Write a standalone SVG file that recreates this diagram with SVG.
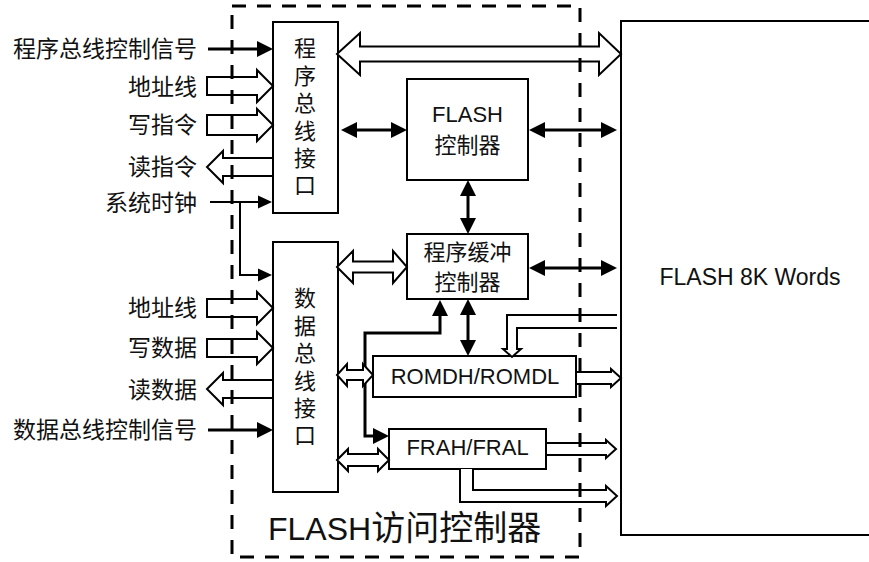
<svg xmlns="http://www.w3.org/2000/svg" width="869" height="562" viewBox="0 0 869 562">
<style>
.box{fill:#fff;stroke:#000;stroke-width:2}
.hol{fill:#fff;stroke:#000;stroke-width:2;stroke-linejoin:miter}
.thk{fill:none;stroke:#000;stroke-width:3}
.thn{fill:none;stroke:#000;stroke-width:2}
.cn{font-family:"Noto Sans CJK SC","Liberation Sans",sans-serif;font-size:23px;fill:#111}
.lt{font-family:"Liberation Sans","Noto Sans CJK SC",sans-serif;font-size:22px;fill:#111}
.vt{font-family:"Noto Sans CJK SC",sans-serif;font-size:22px;fill:#111;writing-mode:vertical-rl;letter-spacing:5.4px}
.dash{fill:none;stroke:#000;stroke-width:3;stroke-dasharray:14 11}
</style>
<defs>
<marker id="ah" viewBox="0 0 16 16" refX="10" refY="8" markerWidth="16" markerHeight="16" markerUnits="userSpaceOnUse" orient="auto-start-reverse"><path d="M0,0 L16,8 L0,16 z" fill="#000"/></marker>
<marker id="ahs" viewBox="0 0 14 14" refX="8" refY="7" markerWidth="14" markerHeight="14" markerUnits="userSpaceOnUse" orient="auto-start-reverse"><path d="M0,0.5 L14,7 L0,13.5 z" fill="#000"/></marker>
</defs>
<rect width="869" height="562" fill="#fff"/>

<g id="flash-mem">
<path class="box" d="M880,21 H621 V535 H880"/>
<text class="lt" x="750" y="285" text-anchor="middle" style="font-size:23px">FLASH 8K Words</text>
</g>

<g id="prog-bus-if">
<rect class="box" x="273" y="22" width="65" height="191"/>
<text class="vt" x="305" y="37">程序总线接口</text>
</g>

<g id="data-bus-if">
<rect class="box" x="273" y="242" width="65" height="250"/>
<text class="vt" x="305" y="287">数据总线接口</text>
</g>

<g id="flash-ctrl">
<rect class="box" x="407" y="79" width="121" height="101"/>
<text class="lt" x="467.5" y="122" text-anchor="middle">FLASH</text>
<text class="cn" x="467.5" y="153" text-anchor="middle" style="font-size:22px">控制器</text>
</g>

<g id="buf-ctrl">
<rect class="box" x="407" y="234" width="121" height="65"/>
<text class="cn" x="467.5" y="260" text-anchor="middle" style="font-size:22px">程序缓冲</text>
<text class="cn" x="467.5" y="290" text-anchor="middle" style="font-size:22px">控制器</text>
</g>

<g id="romd">
<rect class="box" x="373" y="356" width="203" height="41"/>
<text class="lt" x="475" y="384" text-anchor="middle">ROMDH/ROMDL</text>
</g>

<g id="fra">
<rect class="box" x="389" y="429" width="157" height="40"/>
<text class="lt" x="467.5" y="455" text-anchor="middle">FRAH/FRAL</text>
</g>

<g id="labels">
<text class="cn" x="197" y="57" text-anchor="end">程序总线控制信号</text>
<text class="cn" x="197" y="95" text-anchor="end">地址线</text>
<text class="cn" x="197" y="133" text-anchor="end">写指令</text>
<text class="cn" x="197" y="175" text-anchor="end">读指令</text>
<text class="cn" x="197" y="211" text-anchor="end">系统时钟</text>
<text class="cn" x="197" y="316" text-anchor="end">地址线</text>
<text class="cn" x="197" y="356" text-anchor="end">写数据</text>
<text class="cn" x="197" y="398" text-anchor="end">读数据</text>
<text class="cn" x="197" y="438" text-anchor="end">数据总线控制信号</text>
</g>

<g id="connectors">
<line class="thk" x1="208" y1="49" x2="267" y2="49" marker-end="url(#ah)"/>
<polygon class="hol" points="207,77 257,77 257,70 273,86 257,102 257,95 207,95"/>
<polygon class="hol" points="207,115 257,115 257,109 273,125 257,141 257,135 207,135"/>
<polygon class="hol" points="273,158 223,158 223,151 207,167 223,183 223,176 273,176"/>
<path class="thn" d="M210,202 H266" marker-end="url(#ahs)"/>
<path class="thn" d="M240,202 V275 H266" marker-end="url(#ahs)"/>
<polygon class="hol" points="207,299 257,299 257,292 273,308 257,324 257,317 207,317"/>
<polygon class="hol" points="207,339 257,339 257,332 273,348 257,364 257,357 207,357"/>
<polygon class="hol" points="273,380 223,380 223,373 207,389 223,405 223,398 273,398"/>
<line class="thk" x1="208" y1="430" x2="267" y2="430" marker-end="url(#ah)"/>
<polygon class="hol" points="337,54 360,33 360,46.5 599,46.5 599,33 621,54 599,75 599,61.5 360,61.5 360,75"/>
<line class="thk" x1="347" y1="130" x2="401" y2="130" marker-start="url(#ah)" marker-end="url(#ah)"/>
<line class="thk" x1="535" y1="130" x2="611" y2="130" marker-start="url(#ah)" marker-end="url(#ah)"/>
<line class="thk" x1="468" y1="186" x2="468" y2="228" marker-start="url(#ah)" marker-end="url(#ah)"/>
<line class="thk" x1="535" y1="268" x2="611" y2="268" marker-start="url(#ah)" marker-end="url(#ah)"/>
<line class="thk" x1="468" y1="305" x2="468" y2="350" marker-start="url(#ah)" marker-end="url(#ah)"/>
<path class="thk" d="M440,306 V333 H365 V436 H383" marker-start="url(#ah)" marker-end="url(#ah)"/>
<polygon class="hol" points="337,267 353,251 353,261.5 393,261.5 393,251 407,267 393,283 393,272.5 353,272.5 353,283"/>
<polygon class="hol" points="337,375 347,364 347,370 363,370 363,364 373,375 363,386 363,380 347,380 347,386"/>
<polygon class="hol" points="337,460 348,449 348,454 378,454 378,449 389,460 378,471 378,466 348,466 348,471"/>
<polyline class="hol" points="617,315 507,315 507,349 503,349 512,357 521,349 517,349 517,328 617,328"/>
<polygon class="hol" points="576,372 611,372 611,369 621,378 611,387 611,384 576,384"/>
<polygon class="hol" points="546,443 606,443 606,440 616,449 606,458 606,455 546,455"/>
<polyline class="hol" points="460,469 460,502 606,502 606,506 617,496 606,486 606,490 473,490 473,469"/>
</g>

<g id="access-ctrl">
<rect class="dash" x="232" y="6" width="348" height="551"/>
<text x="268" y="540" style="font-family:'Liberation Sans','Noto Sans CJK SC',sans-serif;font-size:32px;fill:#111">FLASH<tspan style="font-family:'Noto Sans CJK SC',sans-serif;font-size:34px">访问控制器</tspan></text>
</g>
</svg>
